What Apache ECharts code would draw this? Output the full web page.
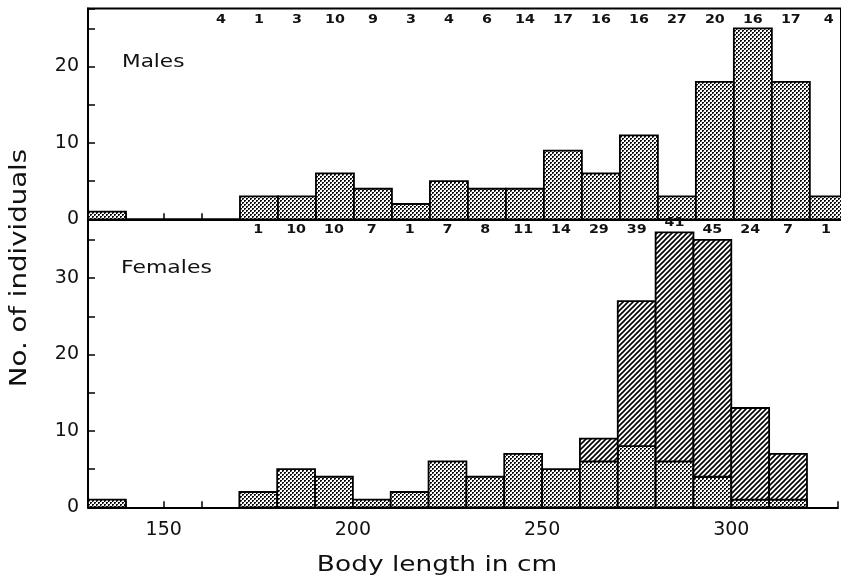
<!DOCTYPE html>
<html lang="en">
<head>
    <meta charset="UTF-8">
    <title>Body length of males and females</title>
    <script src="https://cdn.jsdelivr.net/npm/echarts@6.0.0/dist/echarts.min.js"></script>
    <style>
        html, body { margin: 0; padding: 0; background: #fff; }
        #container { width: 841px; height: 577px; }
    </style>
</head>
<body>
<div id="container"></div>
<script>
    // bins are 10 cm wide, given by their lower edge
    var binWidth = 10;

    var maleBins = [130, 170, 180, 190, 200, 210, 220, 230, 240, 250, 260, 270, 280, 290, 300, 310, 320];
    var maleCounts = [1, 3, 3, 6, 4, 2, 5, 4, 4, 9, 6, 11, 3, 18, 25, 18, 3];

    var femaleBins = [130, 170, 180, 190, 200, 210, 220, 230, 240, 250, 260, 270, 280, 290, 300, 310];
    var femaleDotted = [1, 2, 5, 4, 1, 2, 6, 4, 7, 5, 6, 8, 6, 4, 1, 1];
    var femaleTotal = [1, 2, 5, 4, 1, 2, 6, 4, 7, 5, 9, 27, 36, 35, 13, 7];

    // numbers printed along the top of each panel (bin centres)
    var maleNBins = [165, 175, 185, 195, 205, 215, 225, 235, 245, 255, 265, 275, 285, 295, 305, 315, 325];
    var maleN = [4, 1, 3, 10, 9, 3, 4, 6, 14, 17, 16, 16, 27, 20, 16, 17, 4];
    var femaleNBins = [175, 185, 195, 205, 215, 225, 235, 245, 255, 265, 275, 285, 295, 305, 315, 325];
    var femaleN = [1, 10, 10, 7, 1, 7, 8, 11, 14, 29, 39, 41, 45, 24, 7, 1];

    var xTickLabels = [150, 200, 250, 300];
    var yTickLabels = [0, 10, 20, 30];

    var font = '"DejaVu Sans", "Liberation Sans", sans-serif';

    // fill patterns
    function dotPattern() {
        var c = document.createElement('canvas');
        c.width = 4; c.height = 4;
        var g = c.getContext('2d');
        g.fillStyle = '#fff';
        g.fillRect(0, 0, 4, 4);
        g.fillStyle = '#111';
        g.fillRect(0, 0, 2, 1); g.fillRect(0, 1, 1, 1);
        g.fillRect(2, 2, 2, 1); g.fillRect(2, 3, 1, 1);
        g.fillStyle = '#999';
        g.fillRect(1, 1, 1, 1); g.fillRect(3, 3, 1, 1);
        return c;
    }
    function hatchPattern() {
        var c = document.createElement('canvas');
        c.width = 5; c.height = 5;
        var g = c.getContext('2d');
        g.fillStyle = '#fff';
        g.fillRect(0, 0, 5, 5);
        g.strokeStyle = '#000';
        g.lineWidth = 1.6;
        g.beginPath();
        g.moveTo(-1, 6); g.lineTo(6, -1);
        g.moveTo(-1, 1); g.lineTo(1, -1);
        g.moveTo(4, 6); g.lineTo(6, 4);
        g.stroke();
        return c;
    }
    var dots = { image: dotPattern(), repeat: 'repeat' };
    var hatch = { image: hatchPattern(), repeat: 'repeat' };

    function rectRenderer(fill) {
        return function (params, api) {
            var p0 = api.coord([api.value(0), api.value(1)]);
            var p1 = api.coord([api.value(0) + binWidth, api.value(2)]);
            return {
                type: 'rect',
                shape: { x: p0[0], y: p1[1], width: p1[0] - p0[0], height: p0[1] - p1[1] },
                style: { fill: fill, stroke: '#000', lineWidth: 1.8 }
            };
        };
    }
    function textRenderer(params, api) {
        var p = api.coord([api.value(0), api.value(1)]);
        return {
            type: 'text',
            x: p[0], y: p[1], scaleX: 1.1,
            style: {
                text: String(api.value(2)),
                fontSize: 13, fontWeight: 'bold', fontFamily: font, fill: '#111',
                align: 'center', verticalAlign: 'middle',
                textAlign: 'center', textVerticalAlign: 'middle'
            }
        };
    }
    function title(text, x, y, size, sx, rot, align) {
        return {
            type: 'text', x: x, y: y, rotation: rot, scaleX: sx,
            style: {
                text: text, fontSize: size, fontFamily: font, fill: '#111',
                align: align, verticalAlign: 'middle', textAlign: align, textVerticalAlign: 'middle'
            }
        };
    }

    var maleData = maleBins.map(function (b, i) { return [b, 0, maleCounts[i]]; });
    var femDotData = femaleBins.map(function (b, i) { return [b, 0, femaleDotted[i]]; });
    var femHatchData = [];
    femaleBins.forEach(function (b, i) {
        if (femaleTotal[i] > femaleDotted[i]) femHatchData.push([b, femaleDotted[i], femaleTotal[i]]);
    });
    var maleLabelData = maleNBins.map(function (x, i) { return [x, 26.2, maleN[i]]; });
    var femLabelData = femaleNBins.map(function (x, i) { return [x, femaleN[i] === 41 ? 37.2 : 36.3, femaleN[i]]; });

    var myChart = echarts.init(document.getElementById('container'));

    function xAxisCfg(idx, labels) {
        return {
            type: 'value', gridIndex: idx, min: 130, max: 328.2, interval: 10,
            axisLine: { show: true, lineStyle: { color: '#000', width: 2 } },
            axisTick: { show: true, inside: true, length: 6, lineStyle: { color: '#000', width: 1.5 } },
            splitLine: { show: false },
            axisLabel: {
                show: labels, margin: 13, color: '#111', fontSize: 19, fontFamily: font,
                formatter: function (v) { return xTickLabels.indexOf(v) >= 0 ? String(v) : ''; }
            }
        };
    }
    function yAxisCfg(idx, max) {
        return {
            type: 'value', gridIndex: idx, min: 0, max: max, interval: 5,
            axisLine: { show: true, lineStyle: { color: '#000', width: 2 } },
            axisTick: { show: true, inside: true, length: 7, lineStyle: { color: '#000', width: 1.5 } },
            splitLine: { show: false },
            axisLabel: {
                margin: 9, color: '#111', fontSize: 19, fontFamily: font,
                formatter: function (v) { return yTickLabels.indexOf(v) >= 0 ? String(v) : ''; }
            }
        };
    }

    var option = {
        animation: false,
        backgroundColor: '#fff',
        grid: [
            { left: 88, top: 8.5, width: 753, height: 210.8, show: true, borderColor: '#000', borderWidth: 2 },
            { left: 88, top: 219.3, width: 753, height: 288, show: false }
        ],
        xAxis: [xAxisCfg(0, false), xAxisCfg(1, true)],
        yAxis: [yAxisCfg(0, 27.6), yAxisCfg(1, 37.7)],
        graphic: [
            title('No. of individuals', 20, 268, 23, 1.2, Math.PI / 2, 'center'),
            title('Body length in cm', 437, 565, 22, 1.2, 0, 'center'),
            title('Males', 122, 62, 18, 1.2, 0, 'left'),
            title('Females', 121, 268, 18, 1.22, 0, 'left')
        ],
        series: [
            {
                name: 'Males', type: 'custom', xAxisIndex: 0, yAxisIndex: 0,
                renderItem: rectRenderer(dots), data: maleData,
                encode: { x: 0, y: [1, 2] }, z: 3
            },
            {
                name: 'Females dotted', type: 'custom', xAxisIndex: 1, yAxisIndex: 1,
                renderItem: rectRenderer(dots), data: femDotData,
                encode: { x: 0, y: [1, 2] }, z: 3
            },
            {
                name: 'Females hatched', type: 'custom', xAxisIndex: 1, yAxisIndex: 1,
                renderItem: rectRenderer(hatch), data: femHatchData,
                encode: { x: 0, y: [1, 2] }, z: 3
            },
            {
                name: 'Males n', type: 'custom', xAxisIndex: 0, yAxisIndex: 0,
                renderItem: textRenderer, data: maleLabelData,
                encode: { x: 0, y: 1 }, z: 4, clip: false
            },
            {
                name: 'Females n', type: 'custom', xAxisIndex: 1, yAxisIndex: 1,
                renderItem: textRenderer, data: femLabelData,
                encode: { x: 0, y: 1 }, z: 4, clip: false
            }
        ]
    };
    myChart.setOption(option);
</script>
</body>
</html>
